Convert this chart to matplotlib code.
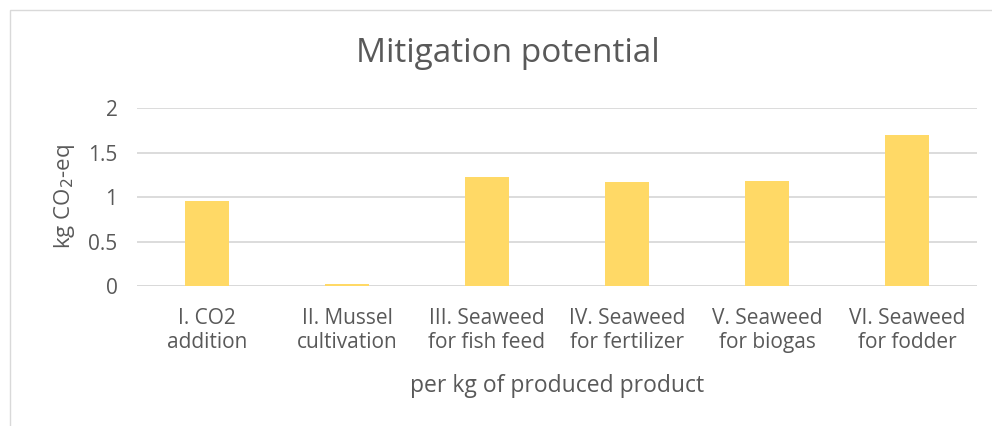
import numpy as np
import matplotlib.pyplot as plt
from matplotlib.patches import Rectangle

plt.rcParams['font.family'] = ['Open Sans', 'DejaVu Sans']

categories = ['I. CO2\naddition', 'II. Mussel\ncultivation', 'III. Seaweed\nfor fish feed',
              'IV. Seaweed\nfor fertilizer', 'V. Seaweed\nfor biogas', 'VI. Seaweed\nfor fodder']
values = [0.95, 0.02, 1.22, 1.17, 1.18, 1.70]
yticks = [0, 0.5, 1, 1.5, 2]

text_col = '#595959'
grid_col = '#D9D9D9'
bar_col = '#FFD966'

fig = plt.figure(figsize=(9.92, 4.26), dpi=100)
# chart border (only top/left visible in the crop)
fig.add_artist(Rectangle((9.5 / 992, -0.1), 1.1, (426 - 9.5) / 426 + 0.1, transform=fig.transFigure,
                         fill=False, edgecolor='#D9D9D9', linewidth=1))

ax = fig.add_axes([137 / 992, 1 - 286 / 426, (977 - 137) / 992, (286 - 108) / 426])
x = np.arange(len(categories))
ax.bar(x, values, width=0.31, color=bar_col, zorder=3)

ax.set_xlim(-0.5, len(categories) - 0.5)
ax.set_ylim(0, 2)
ax.set_yticks(yticks)
ax.set_yticklabels(['0', '0.5', '1', '1.5', '2'])
ax.set_xticks(x)
ax.set_xticklabels(categories, linespacing=1.2)
ax.yaxis.grid(True, color=grid_col, linewidth=1.3, zorder=0)
for s in ax.spines.values():
    s.set_visible(False)
ax.axhline(0, color=grid_col, linewidth=1.3, zorder=2)
ax.tick_params(axis='both', length=0, labelsize=15, colors=text_col)
ax.tick_params(axis='y', pad=14)
ax.tick_params(axis='x', pad=16)

ax.set_ylabel('kg CO$_2$-eq', fontsize=16, color=text_col, labelpad=8)
ax.set_xlabel('per kg of produced product', fontsize=16.5, color=text_col, labelpad=15)
fig.text(508 / 992, 1 - 53 / 426, 'Mitigation potential', ha='center', va='center',
         fontsize=24, color=text_col)

fig.savefig('out.png', dpi=100)
